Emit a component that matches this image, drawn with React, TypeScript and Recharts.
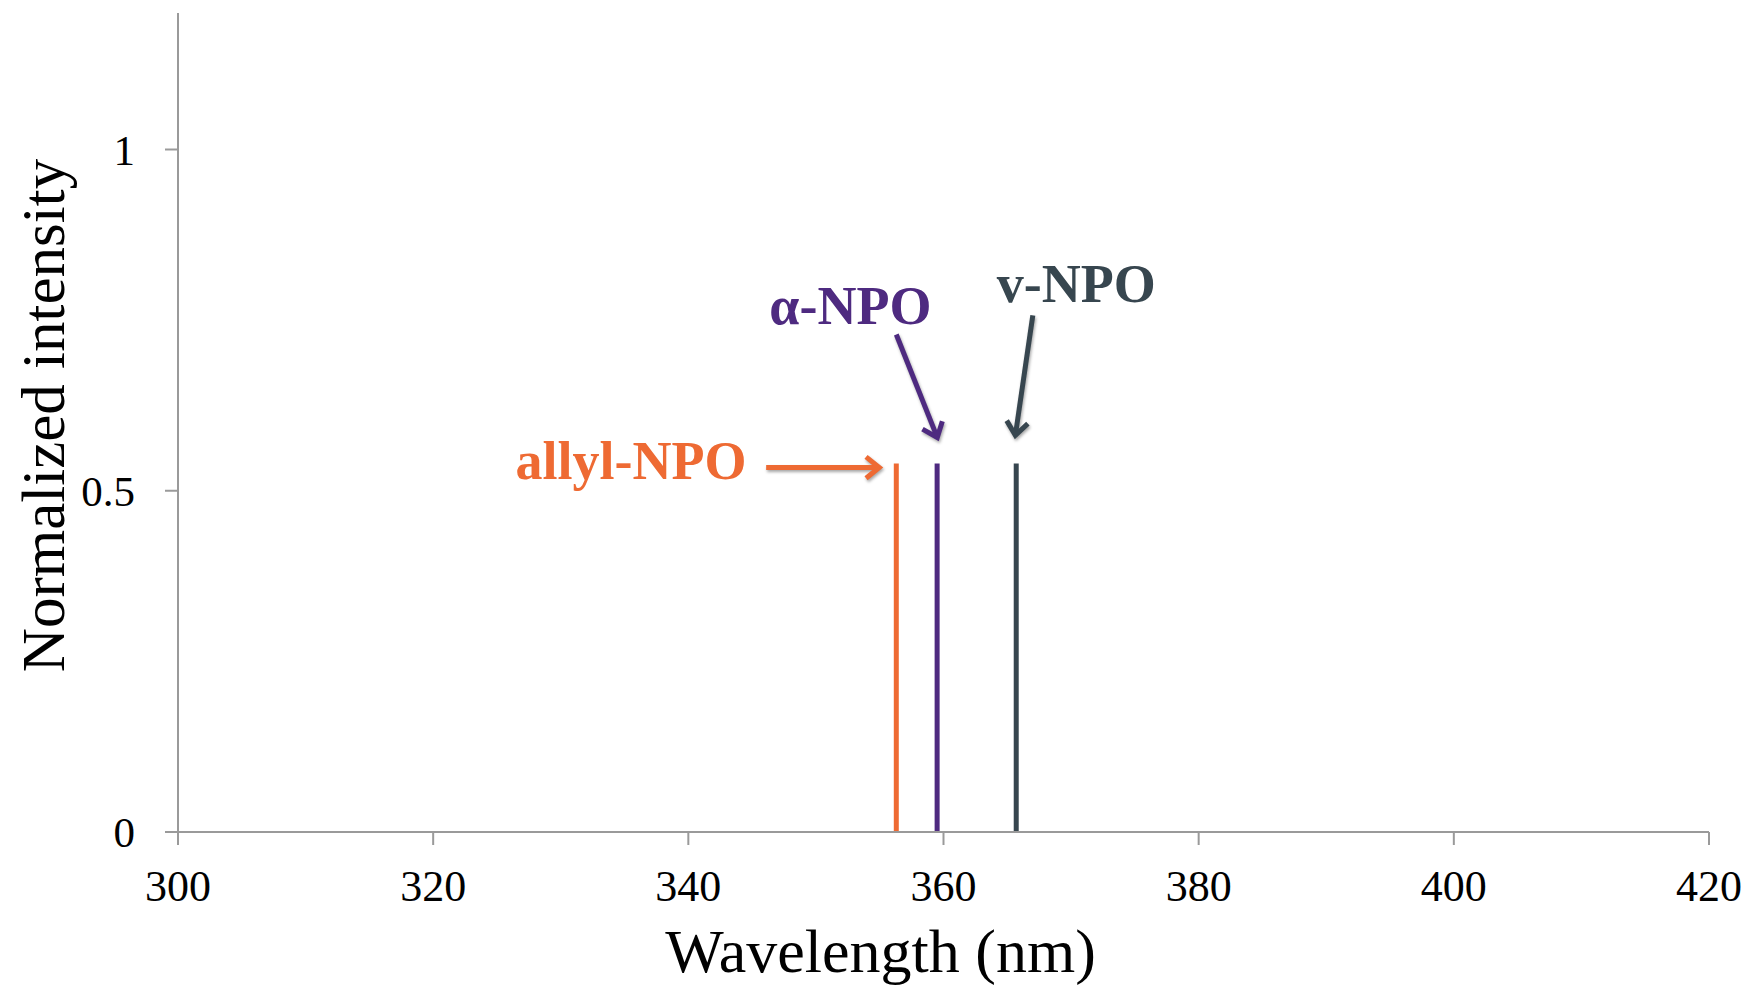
import { Line, LineChart, ReferenceDot, ReferenceLine, XAxis, YAxis } from "recharts";

const xTicks = [300, 320, 340, 360, 380, 400, 420];
const yTicks = [0, 0.5, 1];

// emission peaks (nm) and their normalized height
const names = ["allyl-NPO", "α-NPO", "v-NPO"];
const peakWavelengths = [356.3, 359.5, 365.7];
const peakIntensities = [0.54, 0.54, 0.54];
const colors = ["#EE6A33", "#4E2A80", "#37464F"];

// annotation arrows, in data units
const arrowFrom = [
  { x: 346.1, y: 0.534 },
  { x: 356.3, y: 0.729 },
  { x: 367.0, y: 0.757 }
];
const arrowTo = [
  { x: 355.2, y: 0.534 },
  { x: 359.6, y: 0.574 },
  { x: 365.6, y: 0.577 }
];
const labelAt = [
  { x: 335.5, y: 0.517 },
  { x: 352.7, y: 0.745 },
  { x: 370.4, y: 0.777 }
];

const serif = "'Liberation Serif', 'DejaVu Serif', serif";
const axisGray = "#9a9a9a";

const arrowShape = (color: string) => (p: any) => {
  const { x1, y1, x2, y2 } = p;
  const ang = Math.atan2(y2 - y1, x2 - x1);
  const len = 17;
  const spread = 0.68;
  const tipX = x2 - 3 * Math.cos(ang);
  const tipY = y2 - 3 * Math.sin(ang);
  const ax = tipX - len * Math.cos(ang - spread);
  const ay = tipY - len * Math.sin(ang - spread);
  const bx = tipX - len * Math.cos(ang + spread);
  const by = tipY - len * Math.sin(ang + spread);
  return (
    <g style={{ filter: "drop-shadow(1px 2px 1.5px rgba(0,0,0,0.35))" }}>
      <line x1={x1} y1={y1} x2={tipX - 2 * Math.cos(ang)} y2={tipY - 2 * Math.sin(ang)} stroke={color} strokeWidth={5} />
      <polyline
        points={`${ax},${ay} ${tipX},${tipY} ${bx},${by}`}
        fill="none"
        stroke={color}
        strokeWidth={5}
        strokeLinejoin="miter"
      />
    </g>
  );
};

const labelShape = (text: string, color: string) => (p: any) => (
  <text
    x={p.cx}
    y={p.cy}
    textAnchor="middle"
    fontFamily={serif}
    fontWeight="bold"
    fontSize={54}
    fill={color}
  >
    {text}
  </text>
);

export default function App() {
  return (
    <div style={{ position: "absolute", left: 0, top: 0, background: "#fff" }}>
      <LineChart width={1748} height={985} margin={{ top: 13, right: 39, left: 0, bottom: 0 }}>
        <XAxis
          dataKey="x"
          type="number"
          domain={[300, 420]}
          ticks={xTicks}
          allowDataOverflow
          height={153}
          stroke={axisGray}
          strokeWidth={2}
          tickSize={13}
          tickMargin={25}
          tick={{ fill: "#000", fontSize: 44, fontFamily: serif }}
          label={{
            content: (props: any) => {
              const vb = props.viewBox;
              return (
                <text x={vb.x + vb.width / 2 - 63} y={972} textAnchor="middle" fontFamily={serif} fontSize={62} fill="#000">
                  Wavelength (nm)
                </text>
              );
            }
          }}
        />
        <YAxis
          type="number"
          domain={[0, 1.2]}
          ticks={yTicks}
          allowDataOverflow
          width={178}
          stroke={axisGray}
          strokeWidth={2}
          tickSize={13}
          tickMargin={30}
          tick={{ fill: "#000", fontSize: 43, fontFamily: serif }}
          label={{
            content: (props: any) => {
              const vb = props.viewBox;
              const cx = 43;
              const cy = vb.y + vb.height / 2 - 7;
              return (
                <text
                  x={cx}
                  y={cy}
                  transform={`rotate(-90, ${cx}, ${cy})`}
                  textAnchor="middle"
                  dominantBaseline="central"
                  fontFamily={serif}
                  fontSize={61}
                  fill="#000"
                >
                  Normalized intensity
                </text>
              );
            }
          }}
        />
        {peakWavelengths.map((w, i) => (
          <Line
            key={names[i]}
            data={[
              { x: w, y: 0 },
              { x: w, y: peakIntensities[i] }
            ]}
            dataKey="y"
            stroke={colors[i]}
            strokeWidth={5}
            dot={false}
            activeDot={false}
            isAnimationActive={false}
            name={names[i]}
          />
        ))}
        {names.map((n, i) => (
          <ReferenceLine
            key={"arrow-" + n}
            segment={[arrowFrom[i], arrowTo[i]]}
            shape={arrowShape(colors[i])}
            ifOverflow="visible"
          />
        ))}
        {names.map((n, i) => (
          <ReferenceDot
            key={"label-" + n}
            x={labelAt[i].x}
            y={labelAt[i].y}
            r={0}
            shape={labelShape(n, colors[i])}
            ifOverflow="visible"
          />
        ))}
      </LineChart>
    </div>
  );
}
